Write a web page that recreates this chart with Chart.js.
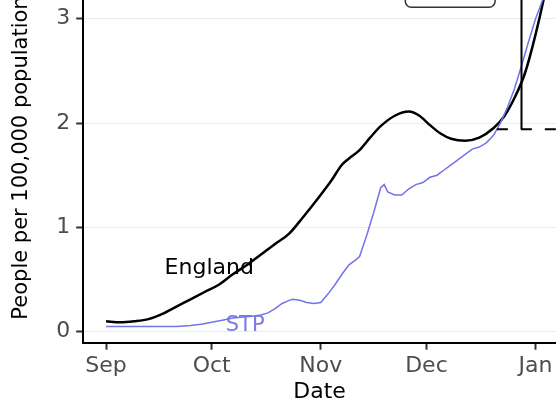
<!DOCTYPE html>
<html>
<head>
<meta charset="utf-8">
<script src="https://cdn.jsdelivr.net/npm/chart.js@4"></script>
<style>
  html, body { margin: 0; padding: 0; background: #fff; }
</style>
</head>
<body>
<canvas id="chart" width="556" height="403"></canvas>
<script>
// days counted from 1 Sep
const tickDays = [0, 30, 61, 91, 122];
const tickLabels = ["Sep", "Oct", "Nov", "Dec", "Jan"];
const yTicks = [0, 1, 2, 3];

const englandDays = [0, 4, 8, 12, 16, 20, 24, 28, 32, 36, 40, 44, 48, 52, 56, 60, 64, 67, 69, 72, 75, 78, 82, 86, 89, 92, 95, 98, 102, 106, 110, 113, 116, 119, 122, 125, 128];
const englandValues = [0.10, 0.09, 0.10, 0.12, 0.17, 0.24, 0.31, 0.38, 0.45, 0.55, 0.64, 0.74, 0.84, 0.94, 1.10, 1.27, 1.45, 1.60, 1.66, 1.74, 1.86, 1.97, 2.07, 2.11, 2.07, 1.98, 1.90, 1.85, 1.83, 1.86, 1.95, 2.06, 2.24, 2.48, 2.85, 3.30, 3.85];

const stpDays = [0, 5, 10, 15, 20, 24, 27, 30, 33, 36, 39, 42, 44, 46, 48, 50, 52, 53, 55, 57, 59, 61, 63, 65, 67, 69, 71, 72, 74, 76, 78, 79, 80, 82, 84, 86, 88, 90, 92, 94, 96, 98, 100, 102, 104, 106, 108, 110, 112, 114, 116, 118, 120, 122, 124, 126, 128];
const stpValues = [0.05, 0.05, 0.05, 0.05, 0.05, 0.06, 0.07, 0.09, 0.11, 0.13, 0.14, 0.15, 0.16, 0.18, 0.22, 0.27, 0.30, 0.31, 0.30, 0.28, 0.27, 0.28, 0.36, 0.45, 0.55, 0.64, 0.69, 0.72, 0.92, 1.14, 1.38, 1.41, 1.34, 1.31, 1.31, 1.37, 1.41, 1.43, 1.48, 1.50, 1.55, 1.60, 1.65, 1.70, 1.75, 1.77, 1.81, 1.88, 2.00, 2.15, 2.33, 2.55, 2.78, 3.00, 3.18, 3.40, 3.65];

// direct labels and the marker, in data units
const englandLabel = { day: 29.3, value: 0.61, text: "England" };
const stpLabel = { day: 39.5, value: 0.06, text: "STP" };
const markerDay = 118;
const markerValue = 1.94;
const markerFromDay = 111;
const legendBox = { from: 85, to: 110.5, bottom: 3.11, top: 3.8 };

const FONT = "'DejaVu Sans', sans-serif";
const BLUE = "#7373e8";

const toPoints = (days, vals) => days.map((d, i) => ({ x: d, y: vals[i] }));

const labelsBelow = {
  id: "labelsBelow",
  beforeDatasetsDraw(chart) {
    const { ctx } = chart;
    const x = chart.scales.x;
    const y = chart.scales.y;
    ctx.save();
    ctx.font = "21px " + FONT;
    ctx.textAlign = "center";
    ctx.textBaseline = "middle";
    ctx.fillStyle = "#7a7ae6";
    ctx.fillText(stpLabel.text, x.getPixelForValue(stpLabel.day), y.getPixelForValue(stpLabel.value));
    ctx.restore();
  }
};

const extras = {
  id: "extras",
  afterDatasetsDraw(chart) {
    const { ctx, chartArea } = chart;
    const x = chart.scales.x;
    const y = chart.scales.y;
    ctx.save();
    ctx.beginPath();
    ctx.rect(chartArea.left, chartArea.top, chartArea.right - chartArea.left, chartArea.bottom - chartArea.top);
    ctx.clip();

    // vertical marker + dashed level
    const mx = x.getPixelForValue(markerDay);
    const my = y.getPixelForValue(markerValue);
    ctx.strokeStyle = "#000";
    ctx.lineWidth = 2;
    ctx.beginPath();
    ctx.moveTo(mx, my);
    ctx.lineTo(mx, chartArea.top);
    ctx.stroke();
    ctx.setLineDash([11, 13]);
    ctx.beginPath();
    ctx.moveTo(x.getPixelForValue(markerFromDay), my);
    ctx.lineTo(chartArea.right, my);
    ctx.stroke();
    ctx.setLineDash([]);

    // bottom of the legend frame
    const lx0 = x.getPixelForValue(legendBox.from);
    const lx1 = x.getPixelForValue(legendBox.to);
    const ly0 = y.getPixelForValue(legendBox.top);
    const ly1 = y.getPixelForValue(legendBox.bottom);
    ctx.strokeStyle = "#333";
    ctx.lineWidth = 1.5;
    ctx.beginPath();
    ctx.roundRect(lx0, ly0, lx1 - lx0, ly1 - ly0, 6);
    ctx.stroke();

    // England label
    ctx.font = "22px " + FONT;
    ctx.textAlign = "center";
    ctx.textBaseline = "middle";
    ctx.fillStyle = "#000";
    ctx.fillText(englandLabel.text, x.getPixelForValue(englandLabel.day), y.getPixelForValue(englandLabel.value));
    ctx.restore();
  }
};

new Chart(document.getElementById("chart"), {
  type: "line",
  data: {
    datasets: [
      {
        label: "STP",
        data: toPoints(stpDays, stpValues),
        borderColor: BLUE,
        borderWidth: 1.5,
        pointRadius: 0,
        tension: 0
      },
      {
        label: "England",
        data: toPoints(englandDays, englandValues),
        borderColor: "#000",
        borderWidth: 2.5,
        pointRadius: 0,
        cubicInterpolationMode: "monotone"
      }
    ]
  },
  options: {
    responsive: false,
    animation: false,
    layout: { padding: { top: 0, left: 3, right: 0, bottom: 0 } },
    plugins: { legend: { display: false }, tooltip: { enabled: false } },
    scales: {
      x: {
        type: "linear",
        min: -6.5,
        max: 127.8,
        afterBuildTicks: (s) => { s.ticks = tickDays.map((v) => ({ value: v })); },
        ticks: {
          callback: (v) => tickLabels[tickDays.indexOf(v)],
          color: "#4d4d4d",
          font: { family: FONT, size: 22, lineHeight: 1.2 },
          padding: 3,
          maxRotation: 0,
          autoSkip: false
        },
        grid: { drawOnChartArea: false, tickLength: 7, tickWidth: 2, tickColor: "#333" },
        border: { color: "#000", width: 2 },
        title: {
          display: true,
          text: "Date",
          color: "#000",
          font: { family: FONT, size: 22, lineHeight: 0.95 },
          padding: { top: 0, bottom: 0 }
        }
      },
      y: {
        min: -0.106,
        max: 3.18,
        afterBuildTicks: (s) => { s.ticks = yTicks.map((v) => ({ value: v })); },
        // the top tick sits below the edge, so no room is needed for its label
        afterFit: (s) => { s.paddingTop = 0; s.paddingBottom = 0; },
        ticks: {
          color: "#4d4d4d",
          font: { family: FONT, size: 22 },
          padding: 6
        },
        grid: { color: "#ebebeb", lineWidth: 1, tickLength: 7, tickWidth: 2, tickColor: "#333" },
        border: { color: "#000", width: 2 },
        title: {
          display: true,
          // leading spaces push the visible text up, as in the cropped original
          text: "    People per 100,000 population",
          color: "#000",
          font: { family: FONT, size: 21, lineHeight: 1.2 },
          padding: { top: 6, bottom: 16 }
        }
      }
    }
  },
  plugins: [labelsBelow, extras]
});
</script>
</body>
</html>
